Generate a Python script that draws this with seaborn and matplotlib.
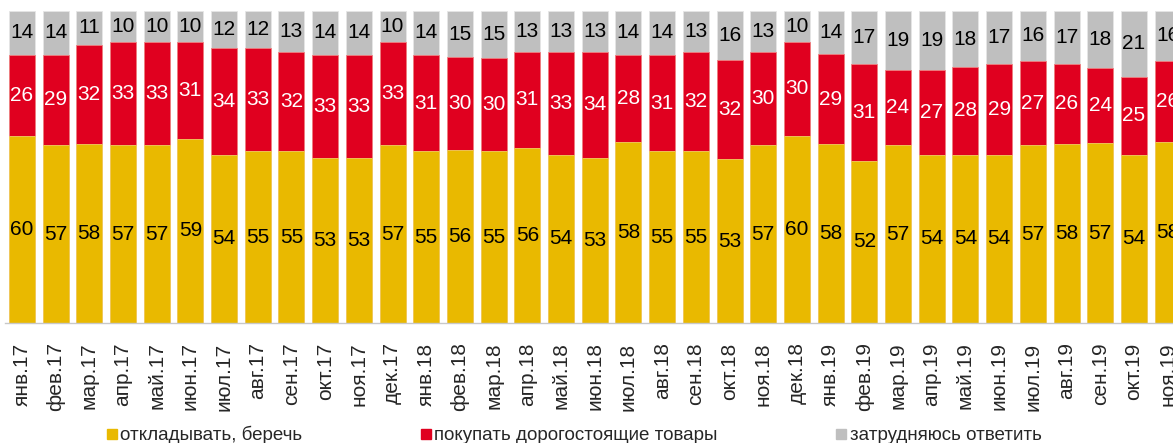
import numpy as np
import pandas as pd
import matplotlib
matplotlib.use("Agg")
import matplotlib.pyplot as plt
import seaborn as sns
from matplotlib.lines import Line2D

months = ["янв.17", "фев.17", "мар.17", "апр.17", "май.17", "июн.17", "июл.17", "авг.17",
          "сен.17", "окт.17", "ноя.17", "дек.17", "янв.18", "фев.18", "мар.18", "апр.18",
          "май.18", "июн.18", "июл.18", "авг.18", "сен.18", "окт.18", "ноя.18", "дек.18",
          "янв.19", "фев.19", "мар.19", "апр.19", "май.19", "июн.19", "июл.19", "авг.19",
          "сен.19", "окт.19", "ноя.19"]
save = [60, 57, 58, 57, 57, 59, 54, 55, 55, 53, 53, 57, 55, 56, 55, 56, 54, 53, 58, 55,
        55, 53, 57, 60, 58, 52, 57, 54, 54, 54, 57, 58, 57, 54, 58]
buy = [26, 29, 32, 33, 33, 31, 34, 33, 32, 33, 33, 33, 31, 30, 30, 31, 33, 34, 28, 31,
       32, 32, 30, 30, 29, 31, 24, 27, 28, 29, 27, 26, 24, 25, 26]
unsure = [14, 14, 11, 10, 10, 10, 12, 12, 13, 14, 14, 10, 14, 15, 15, 13, 13, 13, 14, 14,
          13, 16, 13, 10, 14, 17, 19, 19, 18, 17, 16, 17, 18, 21, 16]
series_names = ["откладывать, беречь", "покупать дорогостоящие товары", "затрудняюсь ответить"]

c_save = "#E9B900"
c_buy = "#E0001F"
c_unsure = "#BFBFBF"

sns.set_style("white")
plt.rcParams["font.family"] = ["Liberation Sans", "DejaVu Sans"]

# 100% stacked: normalise each month to its total
df = pd.DataFrame({"month": months, "save": save, "buy": buy, "unsure": unsure})
total = df["save"] + df["buy"] + df["unsure"]
df["s1"] = df["save"] / total * 100
df["s2"] = (df["save"] + df["buy"]) / total * 100
df["s3"] = total / total * 100

fig = plt.figure(figsize=(11.73, 4.43), dpi=100)
slot_px = 33.7
ax = fig.add_axes([5 / 1173, 120 / 443, 35 * slot_px / 1173, 312 / 443])

bw = 0.77
sns.barplot(data=df, x="month", y="s3", order=months, color=c_unsure, width=bw,
            saturation=1, ax=ax, edgecolor="#e6e6e6", linewidth=0.6)
sns.barplot(data=df, x="month", y="s2", order=months, color=c_buy, width=bw,
            saturation=1, ax=ax, edgecolor="#f08080", linewidth=0.6)
sns.barplot(data=df, x="month", y="s1", order=months, color=c_save, width=bw,
            saturation=1, ax=ax, edgecolor="#f0d060", linewidth=0.6)

fs = 15
for i in range(len(months)):
    y1, y2 = df["s1"][i], df["s2"][i]
    ax.text(i, y1 / 2, str(save[i]), ha="center", va="center", fontsize=fs, color="black")
    ax.text(i, (y1 + y2) / 2, str(buy[i]), ha="center", va="center", fontsize=fs, color="white")
    ax.text(i, (y2 + 100) / 2, str(unsure[i]), ha="center", va="center", fontsize=fs, color="black")

ax.set_xlim(-0.5, len(months) - 0.5)
ax.set_ylim(0, 100)
ax.set_xlabel("")
ax.set_ylabel("")
ax.set_yticks([])
for s in ["top", "right", "left"]:
    ax.spines[s].set_visible(False)
ax.spines["bottom"].set_color("#c8c8c8")
ax.spines["bottom"].set_linewidth(1)

ax.set_xticks(range(len(months)))
ax.set_xticklabels(months, rotation=90, fontsize=fs)
ax.tick_params(axis="x", which="major", length=0, pad=14)
ax.set_xticks(np.arange(-0.5, len(months), 1), minor=True)
ax.tick_params(axis="x", which="minor", length=6, color="#c8c8c8", width=1)

handles = [Line2D([], [], marker="s", linestyle="none", markersize=7, color=c)
           for c in [c_save, c_buy, c_unsure]]
fig.legend(handles, series_names, loc="center left", bbox_to_anchor=(104 / 1173, 8 / 443),
           ncol=3, frameon=False, fontsize=13.5, handletextpad=0.05, handlelength=0.8,
           columnspacing=6.2, borderpad=0, borderaxespad=0)

fig.savefig("out.png", dpi=100)
